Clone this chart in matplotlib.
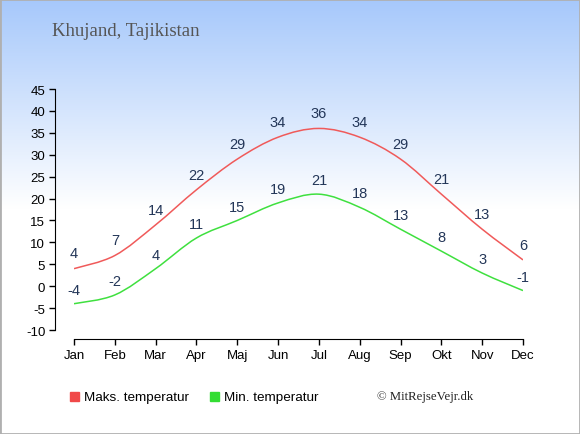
import numpy as np
import matplotlib.pyplot as plt
from matplotlib.path import Path
from matplotlib.patches import PathPatch, Rectangle
from matplotlib.colors import LinearSegmentedColormap

plt.rcParams['font.family'] = ['Liberation Sans', 'DejaVu Sans']
plt.rcParams['axes.unicode_minus'] = False

months = ['Jan', 'Feb', 'Mar', 'Apr', 'Maj', 'Jun', 'Jul', 'Aug', 'Sep', 'Okt', 'Nov', 'Dec']
max_temp = [4, 7, 14, 22, 29, 34, 36, 34, 29, 21, 13, 6]
min_temp = [-4, -2, 4, 11, 15, 19, 21, 18, 13, 8, 3, -1]
yticks = [-10, -5, 0, 5, 10, 15, 20, 25, 30, 35, 40, 45]

red = '#f05a5a'
green = '#3fe03f'
label_col = '#233658'

W, H = 580, 435
fig = plt.figure(figsize=(W / 100, H / 100), dpi=100)

# gradient background
bg = fig.add_axes([0, 0, 1, 1])
bg.set_axis_off()
cmap = LinearSegmentedColormap.from_list('bg', ['#a6c8fb', '#ffffff'])
grad = np.linspace(0, 1, 256).reshape(-1, 1)
bg.imshow(grad, aspect='auto', cmap=cmap, extent=[0, 1, 1 - 210 / H, 1])
bg.set_xlim(0, 1)
bg.set_ylim(0, 1)
bg.add_patch(Rectangle((0, 0), 1, 1, fill=False, ec='#b0b0b0', lw=2))

ax = fig.add_axes([74 / W, (H - 331) / H, (523 - 74) / W, (331 - 90) / H])
ax.patch.set_alpha(0)
ax.set_xlim(0, 11)
ax.set_ylim(-10, 45)
for s in ['top', 'right']:
    ax.spines[s].set_visible(False)
ax.spines['left'].set_position(('outward', 19 * 0.72))
ax.spines['bottom'].set_position(('outward', 9 * 0.72))
ax.set_xticks(range(12))
ax.set_xticklabels(months)
ax.set_yticks(yticks)
ax.tick_params(labelsize=9.5, length=4, width=1, direction='out', pad=3)


def smooth(ax, ys, color):
    xs = np.arange(len(ys), dtype=float)
    ys = np.asarray(ys, dtype=float)
    n = len(xs)
    verts = [(xs[0], ys[0])]
    codes = [Path.MOVETO]
    for i in range(n - 1):
        x0, y0 = (xs[i - 1], ys[i - 1]) if i > 0 else (xs[i], ys[i])
        x3, y3 = (xs[i + 2], ys[i + 2]) if i + 2 < n else (xs[i + 1], ys[i + 1])
        c1 = (xs[i] + (xs[i + 1] - x0) / 6, ys[i] + (ys[i + 1] - y0) / 6)
        c2 = (xs[i + 1] - (x3 - xs[i]) / 6, ys[i + 1] - (y3 - ys[i]) / 6)
        verts += [c1, c2, (xs[i + 1], ys[i + 1])]
        codes += [Path.CURVE4] * 3
    ax.add_patch(PathPatch(Path(verts, codes), fc='none', ec=color, lw=1.1))


smooth(ax, max_temp, red)
smooth(ax, min_temp, green)

for i, v in enumerate(max_temp):
    ax.annotate(str(v), (i, v), xytext=(0, 11), textcoords='offset points',
                ha='center', va='center', fontsize=10.5, color=label_col)
for i, v in enumerate(min_temp):
    ax.annotate(str(v), (i, v), xytext=(0, 10), textcoords='offset points',
                ha='center', va='center', fontsize=10.5, color=label_col)

fig.text(52 / W, 1 - 32 / H, 'Khujand, Tajikistan', family='Liberation Serif',
         fontsize=13.5, color='#555555', va='center')

# legend
fig.patches.append(Rectangle((70 / W, 1 - 402 / H), 9 / W, 9 / H, color='#f04848',
                             transform=fig.transFigure, figure=fig))
fig.text(84 / W, 1 - 398 / H, 'Maks. temperatur', fontsize=9.7, va='center')
fig.patches.append(Rectangle((210 / W, 1 - 402 / H), 9 / W, 9 / H, color='#33dd33',
                             transform=fig.transFigure, figure=fig))
fig.text(224 / W, 1 - 398 / H, 'Min. temperatur', fontsize=9.7, va='center')
fig.text(377 / W, 1 - 397 / H, '© MitRejseVejr.dk', family='Liberation Serif',
         fontsize=9.2, va='center', color='#222222')

fig.savefig('out.png', dpi=100)
